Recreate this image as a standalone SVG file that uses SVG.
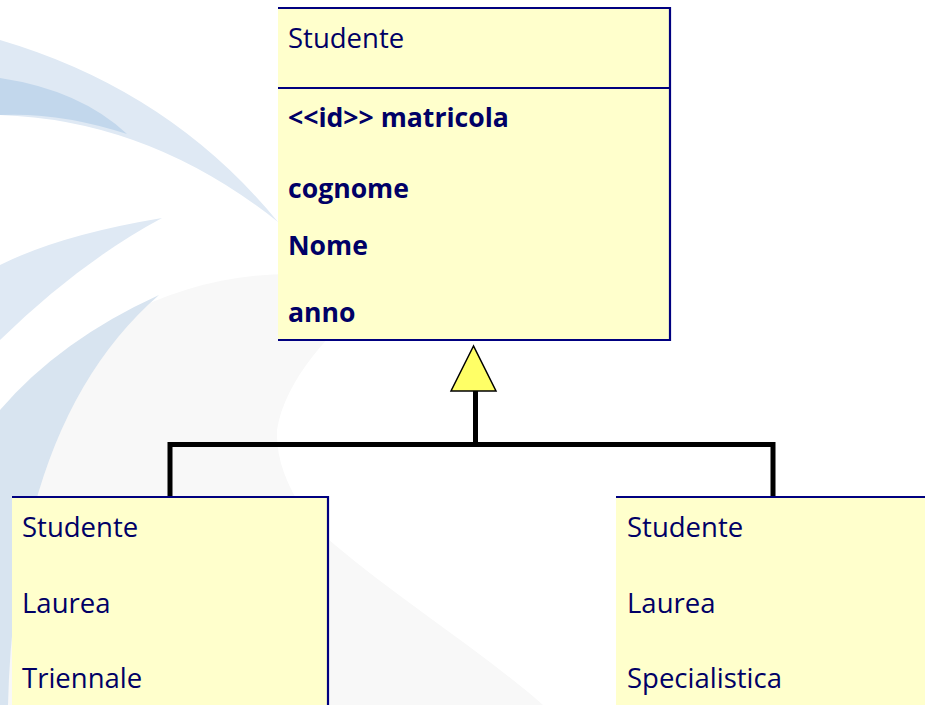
<svg xmlns="http://www.w3.org/2000/svg" width="925" height="705" viewBox="0 0 925 705">
<style>
.box{fill:#ffffcc;stroke:none}
.bd{stroke:#000080;stroke-width:2.2;fill:none}
.t{font-family:"Open Sans","Noto Sans","Liberation Sans",sans-serif;font-size:27.5px;fill:#000066}
.b{font-weight:bold;font-size:26.6px}
.conn{stroke:#000;stroke-width:5;fill:none}
</style>
<rect width="925" height="705" fill="#ffffff"/>
<g id="background">
  <circle cx="290" cy="626" r="352" fill="#f8f8f8"/>
  <path d="M380,290 C330,330 285,380 277,430 C275,470 300,515 335,545 C400,600 480,650 543,705 L925,705 L925,290 Z" fill="#ffffff"/>
  <path d="M0,40 Q170,90 278,222 Q150,120 0,115 Z" fill="#dfe9f4"/>
  <path d="M0,78 Q80,90 127,134 Q60,112 0,115 Z" fill="#c2d7ec"/>
  <path d="M162,218 Q60,235 0,265 L0,340 Q80,262 162,218 Z" fill="#dfe9f4"/>
  <path d="M159,295 Q60,340 0,410 L0,705 L8,705 Q15,420 159,295 Z" fill="#d8e4f0"/>
</g>
<g id="connectors">
  <path class="conn" d="M475.5,391 V444.5 M170,497 V444.5 H773 V497"/>
  <polygon points="473.5,346 451,391 496,391" fill="#ffff66" stroke="#000" stroke-width="1.5" stroke-linejoin="miter"/>
</g>
<g id="studente">
  <rect class="box" x="278" y="8" width="392" height="332"/>
  <path class="bd" d="M278,8 H670 V340 H278 M278,88 H670"/>
  <text class="t" x="288" y="48">Studente</text>
  <text class="t b" x="288" y="127">&lt;&lt;id&gt;&gt; matricola</text>
  <text class="t b" x="288" y="198">cognome</text>
  <text class="t b" x="288" y="255">Nome</text>
  <text class="t b" x="288" y="322">anno</text>
</g>
<g id="triennale">
  <rect class="box" x="12" y="497" width="316" height="210"/>
  <path class="bd" d="M12,497 H328 V706"/>
  <text class="t" x="22" y="537">Studente</text>
  <text class="t" x="22" y="613">Laurea</text>
  <text class="t" x="22" y="688">Triennale</text>
</g>
<g id="specialistica">
  <rect class="box" x="616" y="497" width="310" height="210"/>
  <path class="bd" d="M616,497 H926"/>
  <text class="t" x="627" y="537">Studente</text>
  <text class="t" x="627" y="613">Laurea</text>
  <text class="t" x="627" y="688">Specialistica</text>
</g>
</svg>
